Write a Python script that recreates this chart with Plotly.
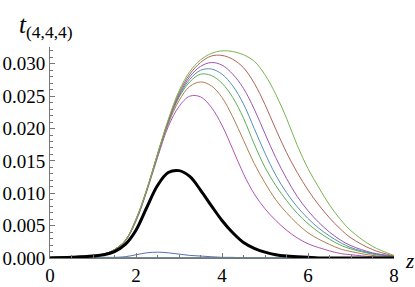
"""Curvas t_(4,4,4) em função de z (estilo Mathematica)."""

import plotly.graph_objects as go

Z = [0, 0.5, 1.0, 1.25, 1.5, 1.75, 2.0, 2.25, 2.5, 2.75, 3.0, 3.25, 3.5, 3.75, 4.0,
     4.25, 4.5, 4.75, 5.0, 5.25, 5.5, 5.75, 6.0, 6.25, 6.5, 6.75, 7.0, 7.5, 8.0]

# curva 1: pequena bossa azul
T1 = [0, 0, 0, 0.0001, 0.0001, 0.0002, 0.0005, 0.0008, 0.0009, 0.0008, 0.0006, 0.0004,
      0.0003, 0.0002, 0.0001, 0.0001, 0, 0, 0, 0, 0, 0, 0, 0, 0, 0, 0, 0, 0]
# curvas 2-5: praticamente nulas
T_NULA = [0.0] * len(Z)
# curvas 6-12
T6 = [0.0001, 0.0002, 0.0004, 0.0006, 0.0012, 0.0026, 0.0057, 0.0103, 0.0155, 0.0203,
      0.0234, 0.0250, 0.0249, 0.0233, 0.0205, 0.0168, 0.0130, 0.0099, 0.0076, 0.0058,
      0.0043, 0.0031, 0.0022, 0.0016, 0.0011, 0.0007, 0.0005, 0.0002, 0.0001]
T7 = [0.0001, 0.0002, 0.0004, 0.0006, 0.0012, 0.0026, 0.0058, 0.0104, 0.0157, 0.0207,
      0.0243, 0.0265, 0.0272, 0.0266, 0.0248, 0.0218, 0.0182, 0.0146, 0.0116, 0.0090,
      0.0070, 0.0053, 0.0039, 0.0029, 0.0021, 0.0014, 0.0010, 0.0004, 0.0002]
T8 = [0.0001, 0.0002, 0.0004, 0.0006, 0.0013, 0.0027, 0.0058, 0.0104, 0.0158, 0.0209,
      0.0248, 0.0272, 0.0284, 0.0282, 0.0270, 0.0248, 0.0216, 0.0176, 0.0140, 0.0112,
      0.0089, 0.0069, 0.0053, 0.0040, 0.0029, 0.0020, 0.0014, 0.0006, 0.0002]
T9 = [0.0001, 0.0002, 0.0004, 0.0006, 0.0013, 0.0027, 0.0059, 0.0105, 0.0159, 0.0210,
      0.0250, 0.0276, 0.0290, 0.0292, 0.0284, 0.0266, 0.0238, 0.0200, 0.0162, 0.0128,
      0.0101, 0.0079, 0.0061, 0.0046, 0.0034, 0.0024, 0.0016, 0.0007, 0.0002]
T10 = [0.0001, 0.0002, 0.0004, 0.0006, 0.0013, 0.0027, 0.0059, 0.0105, 0.0160, 0.0211,
       0.0252, 0.0280, 0.0296, 0.0302, 0.0298, 0.0284, 0.0262, 0.0230, 0.0192, 0.0155,
       0.0123, 0.0095, 0.0073, 0.0055, 0.0040, 0.0028, 0.0019, 0.0008, 0.0003]
T11 = [0.0001, 0.0002, 0.0004, 0.0006, 0.0013, 0.0027, 0.0060, 0.0106, 0.0160, 0.0212,
       0.0255, 0.0284, 0.0302, 0.0312, 0.0313, 0.0307, 0.0294, 0.0270, 0.0237, 0.0199,
       0.0163, 0.0132, 0.0105, 0.0082, 0.0062, 0.0045, 0.0031, 0.0013, 0.0003]
T12 = [0.0001, 0.0002, 0.0004, 0.0006, 0.0013, 0.0027, 0.0060, 0.0106, 0.0161, 0.0214,
       0.0258, 0.0288, 0.0306, 0.0316, 0.0320, 0.0319, 0.0314, 0.0304, 0.0283, 0.0253,
       0.0216, 0.0174, 0.0138, 0.0109, 0.0082, 0.0060, 0.0042, 0.0018, 0.0004]
# curva preta (grossa)
T_PRETA = [0, 0.0001, 0.0003, 0.0005, 0.0010, 0.0021, 0.0043, 0.0078, 0.0112, 0.0132,
           0.0135, 0.0126, 0.0105, 0.0081, 0.0058, 0.0039, 0.0024, 0.0015, 0.0009, 0.0005,
           0.0003, 0.0002, 0.0001, 0, 0, 0, 0, 0, 0]

CURVAS = [
    (T1, "#5A6FB0"),
    (T_NULA, "#A8557F"), (T_NULA, "#A89A55"), (T_NULA, "#55A86A"), (T_NULA, "#556EA8"),
    (T6, "#B056B4"), (T7, "#B08054"), (T8, "#5DAE55"), (T9, "#5590B4"),
    (T10, "#9A56B4"), (T11, "#B06454"), (T12, "#7AB455"),
]

FONTE = "Times New Roman"
EIXO = "#777777"

fig = go.Figure()
for ys, cor in CURVAS:
    fig.add_trace(go.Scatter(x=Z, y=ys, mode="lines", line=dict(color=cor, width=1, shape="spline"),
                             hoverinfo="skip"))
fig.add_trace(go.Scatter(x=Z, y=T_PRETA, mode="lines", line=dict(color="black", width=3, shape="spline"),
                         hoverinfo="skip"))

fig.update_layout(
    width=415, height=287, margin=dict(l=50, r=21, t=47, b=29, autoexpand=False),
    paper_bgcolor="white", plot_bgcolor="white", showlegend=False,
    font=dict(family=FONTE, size=19, color="black"),
    xaxis=dict(range=[0, 8], tickvals=[0, 2, 4, 6, 8], ticks="inside", ticklen=5, tickcolor=EIXO,
               showline=True, linecolor=EIXO, linewidth=1, showgrid=False, zeroline=False,
               automargin=False, tickfont=dict(family=FONTE, size=19),
               minor=dict(dtick=0.5, ticks="inside", ticklen=3, tickcolor=EIXO)),
    yaxis=dict(range=[0, 0.0326], dtick=0.005, tickformat=".3f", ticks="inside", ticklen=5,
               tickcolor=EIXO, showline=True, linecolor=EIXO, linewidth=1, showgrid=False,
               automargin=False, tickfont=dict(family=FONTE, size=19),
               zeroline=False, minor=dict(dtick=0.001, ticks="inside", ticklen=3, tickcolor=EIXO)),
)
fig.add_annotation(text="<i>t</i><sub>(4,4,4)</sub>", xref="paper", yref="paper",
                   x=-0.096, y=1.015, xanchor="left", yanchor="bottom", showarrow=False,
                   font=dict(family=FONTE, size=25, color="black"))
fig.add_annotation(text="<i>z</i>", xref="paper", yref="paper", x=1.026, y=0,
                   xanchor="left", yanchor="middle", yshift=-3, showarrow=False,
                   font=dict(family=FONTE, size=21, color="black"))

# tira a margem padrão de 8 px do body para a figura ocupar a janela inteira
fig.write_html("out.html", config={"displayModeBar": False},
               post_script="document.body.style.margin = '0';")
